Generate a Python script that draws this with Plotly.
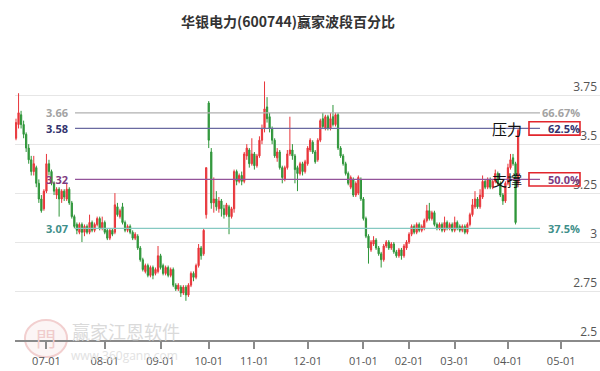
import pandas as pd
import plotly.graph_objects as go

# ---------------- data ----------------
title_text = "华银电力(600744)赢家波段百分比"
start_date = "2024-06-13"
end_date = "2025-05-30"
holidays = ["2024-09-16", "2024-09-17", "2024-10-01", "2024-10-02", "2024-10-03",
            "2024-10-04", "2024-10-07", "2025-01-01", "2025-01-28", "2025-01-29",
            "2025-01-30", "2025-01-31", "2025-02-03", "2025-02-04", "2025-04-04",
            "2025-05-01", "2025-05-02", "2025-05-05"]
tick_months = ["2024-07", "2024-08", "2024-09", "2024-10", "2024-11", "2024-12",
               "2025-01", "2025-02", "2025-03", "2025-04", "2025-05"]
tick_labels = ["07-01", "08-01", "09-01", "10-01", "11-01", "12-01",
               "01-01", "02-01", "03-01", "04-01", "05-01"]

opens = [3.53, 3.60, 3.65, 3.60, 3.55, 3.48, 3.42, 3.36, 3.38, 3.30,
         3.22, 3.17, 3.26, 3.40, 3.36, 3.30, 3.24, 3.27, 3.22, 3.26,
         3.22, 3.27, 3.20, 3.13, 3.09, 3.05, 3.09, 3.05, 3.08, 3.05,
         3.10, 3.06, 3.09, 3.12, 3.07, 3.10, 3.06, 3.02, 3.06, 3.05,
         3.18, 3.13, 3.18, 3.10, 3.06, 3.08, 3.05, 3.02, 3.03, 2.97,
         2.91, 2.85, 2.88, 2.83, 2.87, 2.84, 2.85, 2.93, 2.88, 2.84,
         2.87, 2.83, 2.86, 2.78, 2.76, 2.77, 2.74, 2.77, 2.73, 2.78,
         2.84, 2.82, 2.88, 2.97, 2.94, 3.14, 3.71, 3.46, 3.20, 3.22,
         3.17, 3.21, 3.17, 3.14, 3.18, 3.13, 3.17, 3.36, 3.31, 3.34,
         3.31, 3.44, 3.47, 3.40, 3.45, 3.39, 3.44, 3.52, 3.58, 3.69,
         3.64, 3.58, 3.52, 3.43, 3.46, 3.38, 3.32, 3.38, 3.45, 3.47,
         3.44, 3.38, 3.35, 3.40, 3.36, 3.40, 3.47, 3.51, 3.46, 3.42,
         3.52, 3.63, 3.58, 3.64, 3.58, 3.64, 3.60, 3.65, 3.48, 3.44,
         3.40, 3.35, 3.28, 3.32, 3.24, 3.25, 3.32, 3.22, 3.12, 3.03,
         2.96, 2.99, 3.01, 2.97, 2.94, 2.91, 2.98, 3.00, 2.97, 2.99,
         2.95, 2.93, 2.96, 2.93, 2.97, 3.00, 3.04, 3.08, 3.05, 3.09,
         3.06, 3.07, 3.11, 3.16, 3.12, 3.15, 3.09, 3.07, 3.09, 3.06,
         3.10, 3.07, 3.09, 3.06, 3.10, 3.08, 3.06, 3.08, 3.05, 3.09,
         3.14, 3.18, 3.22, 3.18, 3.23, 3.31, 3.28, 3.32, 3.28, 3.31,
         3.35, 3.30, 3.24, 3.21, 3.30, 3.38, 3.43, 3.40, 3.30]
highs = [3.63, 3.76, 3.67, 3.62, 3.56, 3.50, 3.44, 3.44, 3.39, 3.32,
         3.24, 3.27, 3.45, 3.42, 3.37, 3.31, 3.28, 3.28, 3.27, 3.27,
         3.30, 3.28, 3.21, 3.14, 3.10, 3.10, 3.10, 3.09, 3.09, 3.14,
         3.11, 3.10, 3.13, 3.13, 3.13, 3.11, 3.07, 3.07, 3.07, 3.25,
         3.20, 3.17, 3.20, 3.11, 3.09, 3.09, 3.06, 3.05, 3.04, 2.98,
         2.92, 2.89, 2.89, 2.88, 2.88, 2.87, 2.98, 2.94, 2.89, 2.88,
         2.88, 2.87, 2.87, 2.79, 2.79, 2.78, 2.78, 2.78, 2.79, 2.85,
         2.85, 2.89, 2.99, 2.98, 3.07, 3.38, 3.72, 3.48, 3.33, 3.26,
         3.23, 3.22, 3.19, 3.20, 3.19, 3.18, 3.37, 3.37, 3.35, 3.36,
         3.46, 3.50, 3.48, 3.53, 3.46, 3.45, 3.54, 3.60, 3.82, 3.74,
         3.66, 3.59, 3.53, 3.48, 3.47, 3.39, 3.39, 3.47, 3.64, 3.50,
         3.45, 3.39, 3.41, 3.41, 3.42, 3.49, 3.53, 3.52, 3.47, 3.53,
         3.63, 3.66, 3.65, 3.65, 3.66, 3.70, 3.66, 3.66, 3.49, 3.45,
         3.41, 3.36, 3.34, 3.33, 3.31, 3.34, 3.33, 3.23, 3.13, 3.04,
         3.01, 3.03, 3.02, 2.98, 2.95, 2.99, 3.01, 3.01, 3.00, 3.00,
         2.96, 2.97, 2.97, 2.99, 3.01, 3.05, 3.09, 3.09, 3.10, 3.10,
         3.09, 3.12, 3.19, 3.20, 3.16, 3.16, 3.10, 3.10, 3.10, 3.13,
         3.11, 3.10, 3.10, 3.13, 3.11, 3.09, 3.09, 3.09, 3.10, 3.15,
         3.22, 3.26, 3.23, 3.27, 3.34, 3.32, 3.33, 3.33, 3.32, 3.37,
         3.36, 3.31, 3.25, 3.31, 3.40, 3.45, 3.45, 3.41, 3.58]
lows = [3.52, 3.58, 3.58, 3.53, 3.46, 3.40, 3.34, 3.34, 3.28, 3.20,
        3.15, 3.16, 3.25, 3.34, 3.29, 3.24, 3.22, 3.13, 3.20, 3.21,
        3.21, 3.19, 3.12, 3.07, 3.04, 3.04, 3.00, 3.03, 3.04, 3.04,
        3.05, 3.05, 3.08, 3.06, 3.06, 3.04, 3.01, 3.01, 3.03, 3.04,
        3.13, 3.12, 3.09, 3.05, 3.05, 3.04, 3.01, 3.01, 2.96, 2.90,
        2.85, 2.84, 2.82, 2.82, 2.81, 2.83, 2.84, 2.86, 2.83, 2.83,
        2.82, 2.82, 2.77, 2.75, 2.75, 2.72, 2.73, 2.70, 2.72, 2.77,
        2.80, 2.81, 2.87, 2.91, 2.93, 3.12, 3.48, 3.17, 3.15, 3.16,
        3.15, 3.13, 3.12, 3.13, 3.04, 3.12, 3.15, 3.29, 3.30, 3.29,
        3.30, 3.42, 3.38, 3.39, 3.37, 3.38, 3.43, 3.50, 3.56, 3.61,
        3.56, 3.50, 3.43, 3.41, 3.37, 3.30, 3.31, 3.37, 3.44, 3.42,
        3.30, 3.26, 3.34, 3.34, 3.35, 3.39, 3.46, 3.45, 3.40, 3.41,
        3.51, 3.58, 3.57, 3.57, 3.57, 3.59, 3.59, 3.47, 3.43, 3.39,
        3.34, 3.29, 3.27, 3.23, 3.23, 3.24, 3.21, 3.11, 3.02, 2.89,
        2.95, 2.98, 2.96, 2.93, 2.87, 2.90, 2.97, 2.96, 2.96, 2.94,
        2.92, 2.92, 2.91, 2.92, 2.96, 2.99, 3.03, 3.04, 3.04, 3.05,
        3.05, 3.06, 3.10, 3.11, 3.11, 3.08, 3.06, 3.06, 3.05, 3.05,
        3.06, 3.06, 3.05, 3.05, 3.06, 3.05, 3.05, 3.04, 3.04, 3.08,
        3.13, 3.17, 3.17, 3.17, 3.22, 3.27, 3.27, 3.27, 3.27, 3.30,
        3.29, 3.23, 3.19, 3.20, 3.29, 3.37, 3.39, 3.09, 3.28]
closes = [3.61, 3.66, 3.60, 3.55, 3.48, 3.42, 3.36, 3.40, 3.30, 3.22,
          3.16, 3.26, 3.40, 3.36, 3.30, 3.26, 3.27, 3.22, 3.26, 3.23,
          3.27, 3.20, 3.13, 3.08, 3.06, 3.09, 3.05, 3.08, 3.05, 3.10,
          3.06, 3.09, 3.12, 3.07, 3.10, 3.05, 3.02, 3.06, 3.04, 3.19,
          3.14, 3.16, 3.10, 3.06, 3.08, 3.05, 3.02, 3.04, 2.97, 2.91,
          2.86, 2.88, 2.83, 2.87, 2.83, 2.86, 2.93, 2.87, 2.84, 2.87,
          2.83, 2.86, 2.78, 2.76, 2.78, 2.74, 2.77, 2.73, 2.78, 2.84,
          2.82, 2.88, 2.97, 2.93, 3.06, 3.38, 3.52, 3.20, 3.22, 3.18,
          3.21, 3.17, 3.14, 3.19, 3.13, 3.17, 3.36, 3.31, 3.34, 3.31,
          3.45, 3.48, 3.40, 3.45, 3.39, 3.44, 3.52, 3.58, 3.68, 3.63,
          3.58, 3.52, 3.44, 3.46, 3.38, 3.33, 3.38, 3.45, 3.47, 3.44,
          3.37, 3.35, 3.40, 3.36, 3.41, 3.48, 3.52, 3.46, 3.41, 3.52,
          3.62, 3.59, 3.64, 3.58, 3.63, 3.60, 3.65, 3.48, 3.44, 3.40,
          3.35, 3.30, 3.33, 3.24, 3.30, 3.33, 3.22, 3.12, 3.03, 2.97,
          3.00, 3.01, 2.97, 2.94, 2.91, 2.98, 3.00, 2.97, 2.99, 2.95,
          2.93, 2.96, 2.93, 2.98, 3.00, 3.04, 3.08, 3.05, 3.09, 3.06,
          3.08, 3.11, 3.16, 3.12, 3.15, 3.09, 3.07, 3.09, 3.06, 3.10,
          3.07, 3.09, 3.06, 3.10, 3.07, 3.06, 3.08, 3.05, 3.09, 3.14,
          3.19, 3.22, 3.18, 3.24, 3.31, 3.28, 3.32, 3.28, 3.31, 3.35,
          3.30, 3.24, 3.21, 3.30, 3.38, 3.42, 3.40, 3.10, 3.57]

level_values = [3.66, 3.58, 3.32, 3.07]
level_texts = ["3.66", "3.58", "3.32", "3.07"]
level_pcts = ["66.67%", "62.5%", "50.0%", "37.5%"]
level_colors = ["#a3a3a3", "#33336e", "#7e3b80", "#3f8f8a"]
line_colors = ["#b0b0b0", "#6a6aa0", "#93539a", "#86c9c2"]
boxed_levels = [3.58, 3.32]
boxed_words = ["压力", "支撑"]

# ---------------- build ----------------
cal = pd.bdate_range(start_date, end_date, freq="C", holidays=holidays)
n = len(closes)
xs = list(range(n))
month_keys = cal.strftime("%Y-%m")
tick_pos = [int((month_keys == m).argmax()) for m in tick_months]
hover_dates = list(cal.strftime("%Y-%m-%d")[:n])

fig = go.Figure()
fig.add_trace(go.Candlestick(
    x=xs, open=opens, high=highs, low=lows, close=closes,
    text=hover_dates, hoverinfo="text+y",
    increasing=dict(line=dict(color="#e8363b", width=1), fillcolor="#e8363b"),
    decreasing=dict(line=dict(color="#2f963a", width=1), fillcolor="#2f963a"),
    whiskerwidth=0, showlegend=False,
))

shapes = []
annotations = []
for v, t, p, c, lc in zip(level_values, level_texts, level_pcts, level_colors, line_colors):
    shapes.append(dict(type="line", xref="paper", yref="y", x0=0.1026, x1=0.8974,
                       y0=v, y1=v, line=dict(color=lc, width=1.3), layer="above"))
    annotations.append(dict(xref="paper", yref="y", x=0.094, y=v, text="<b>%s</b>" % t,
                            showarrow=False, xanchor="right", yanchor="middle",
                            font=dict(size=11, color=c)))
    annotations.append(dict(xref="paper", yref="y", x=0.969, y=v, text="<b>%s</b>" % p,
                            showarrow=False, xanchor="right", yanchor="middle",
                            font=dict(size=11, color=c)))

for v, w in zip(boxed_levels, boxed_words):
    shapes.append(dict(type="rect", xref="paper", yref="y", x0=0.8786, x1=0.9658,
                       y0=v - 0.034, y1=v + 0.034,
                       line=dict(color="#e2262c", width=1.6), layer="above"))
    annotations.append(dict(xref="paper", yref="y", x=0.841, y=v, text=w,
                            showarrow=False, xanchor="center", yanchor="middle",
                            font=dict(size=15, color="#111111",
                                      family="Noto Sans CJK SC")))

# watermark
shapes.append(dict(type="circle", xref="paper", yref="paper", x0=0.017, x1=0.089,
                   y0=-0.060, y1=0.070, line=dict(color="#f2cfcf", width=2),
                   fillcolor="rgba(245,215,215,0.25)", layer="below"))
annotations.append(dict(xref="paper", yref="paper", x=0.053, y=0.005, text="門",
                        showarrow=False, xanchor="center", yanchor="middle",
                        font=dict(size=20, color="#f0cccc", family="Noto Sans CJK SC")))
annotations.append(dict(xref="paper", yref="paper", x=0.190, y=0.032, text="赢家江恩软件",
                        showarrow=False, xanchor="center", yanchor="middle",
                        font=dict(size=18, color="#dadada", family="Noto Sans CJK SC")))
annotations.append(dict(xref="paper", yref="paper", x=0.188, y=-0.053, text="www.360gann.com",
                        showarrow=False, xanchor="center", yanchor="middle",
                        font=dict(size=12, color="#e2e2e2")))

fig.update_layout(
    width=600, height=371,
    margin=dict(l=15, r=0, t=56, b=31),
    paper_bgcolor="white", plot_bgcolor="white",
    font=dict(family="Open Sans, Noto Sans CJK SC", color="#555555"),
    title=dict(text="<b>%s</b>" % title_text, x=0.48, xanchor="center",
               y=0.94, yanchor="middle",
               font=dict(size=14, color="#333333", family="Noto Sans CJK SC")),
    shapes=shapes, annotations=annotations,
    xaxis=dict(range=[-0.4, 230.3], showgrid=False, zeroline=False,
               rangeslider=dict(visible=False),
               showline=True, linecolor="#8a8a8a", linewidth=2,
               ticks="outside", ticklen=7, tickwidth=1.5, tickcolor="#8a8a8a",
               ticklabelstandoff=3,
               tickvals=tick_pos, ticktext=tick_labels,
               tickfont=dict(size=11, color="#555555")),
    yaxis=dict(range=[2.5, 3.95], side="right", tick0=2.5, dtick=0.25,
               showgrid=True, gridcolor="#e6e6e6", gridwidth=1, zeroline=False,
               showline=False, ticks="", ticklabelposition="inside top",
               tickfont=dict(size=12, color="#555555")),
)

fig.write_html("out.html")
